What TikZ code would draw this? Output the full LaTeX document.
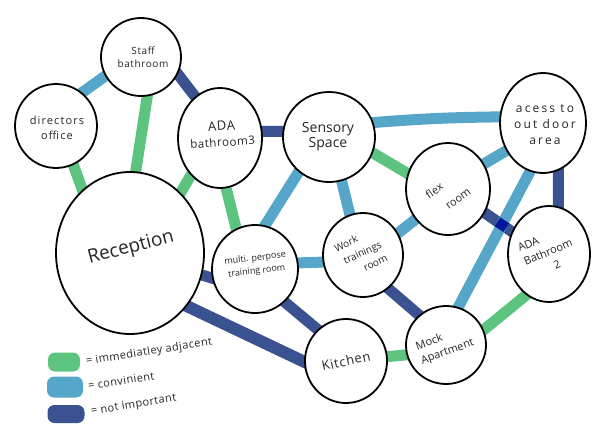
\documentclass[tikz,border=0pt]{standalone}
\usepackage{fontspec}
\setmainfont{Open Sans}
\usetikzlibrary{shapes.geometric,backgrounds,intersections}
\definecolor{gr}{HTML}{5CC47F}
\definecolor{lb}{HTML}{56A6C9}
\definecolor{db}{HTML}{3A5390}
\definecolor{nv}{HTML}{00149C}
\newcommand{\fs}[1]{\fontsize{#1}{#1}\selectfont}
\newcommand{\lsp}[1]{\addfontfeatures{LetterSpace=#1}}
\begin{document}
\begin{tikzpicture}[x=1pt,y=-1pt,
  room/.style={ellipse,draw=black,line width=1.8pt,fill=white,inner sep=0pt},
  lbl/.style={align=center,inner sep=0pt,text=black!85},
  edge/.style={line width=11pt,shorten <=-8pt,shorten >=-8pt},
  ia/.style={edge,draw=gr}, cv/.style={edge,draw=lb}, ni/.style={edge,draw=db},
  swatch/.style={rounded corners=7pt,inner sep=0pt},
  key/.style={anchor=west,inner sep=0pt,rotate=9,font=\fs{11}\lsp{4},text=black!85}]
\useasboundingbox (0,0) rectangle (599,442);
% rooms
\node[room,minimum width=80pt,minimum height=78pt] (staff) at (141,57) {};
\node[room,minimum width=82pt,minimum height=84pt] (dir) at (56,126) {};
\node[room,minimum width=84pt,minimum height=100pt] (ada3) at (220,138) {};
\node[room,minimum width=92pt,minimum height=90pt] (sens) at (329,137) {};
\node[room,minimum width=86pt,minimum height=100pt] (acc) at (543,123) {};
\node[room,minimum width=84pt,minimum height=92pt] (flex) at (448,189) {};
\node[room,minimum width=82pt,minimum height=96pt] (ada2) at (549,254) {};
\node[room,minimum width=80pt,minimum height=84pt] (work) at (363,255) {};
\node[room,minimum width=80pt,minimum height=78pt] (mock) at (446,345) {};
\node[room,minimum width=82pt,minimum height=84pt] (kit) at (346,361) {};
\node[room,minimum width=86pt,minimum height=88pt] (multi) at (255,269) {};
\node[room,minimum width=148pt,minimum height=162pt] (rec) at (130,253) {};
% labels
\node[lbl,font=\fs{10}\lsp{6}] (staff-t) at (143,57) {Staff\\[3pt]bathroom};
\node[lbl,font=\fs{11}\lsp{10}] (dir-t) at (57,128) {directors\\[4pt]office};
\node[lbl,rotate=4] (ada3-t) at (222,134) {{\fs{13}\lsp{5}ADA\hspace{8pt}}\\[4pt]{\fs{11.5}\lsp{5}bathroom3}};
\node[lbl,font=\fs{14}] (sens-t) at (328,137) {Sensory\\[1pt]Space};
\node[lbl,font=\fs{12}\lsp{18}] (acc-t) at (545,125) {acess to\\[4pt]out door\\[4pt]area};
\node[lbl,rotate=35,align=left,font=\fs{11}] (flex-t) at (448,193) {flex\\[9pt]\hspace{10pt}room};
\node[lbl,rotate=23,align=left,font=\fs{11}] (ada2-t) at (548,252) {ADA\\[4pt]Bathroom\\[4pt]\hspace{26pt}2};
\node[lbl,rotate=25,align=left,font=\fs{10}] (work-t) at (361,253) {Work\\[5pt]\hspace{3pt}trainings\\[5pt]\hspace{18pt}room};
\node[lbl,rotate=20,align=left,font=\fs{11}] (mock-t) at (445,345) {Mock\\[4pt]Apartment};
\node[lbl,rotate=12,font=\fs{13}\lsp{5}] (kit-t) at (346,361) {Kitchen};
\node[lbl,rotate=7,font=\fs{9}] (multi-t) at (256,265) {multi. perpose\\[4pt]training room};
\node[lbl,rotate=15,font=\fs{19}] (rec-t) at (131,248) {Reception};
% legend
\node[swatch,fill=gr,minimum width=32pt,minimum height=19pt] (kgr) at (64,362) {};
\node[swatch,fill=lb,minimum width=36pt,minimum height=21pt] (klb) at (65,387) {};
\node[swatch,fill=db,minimum width=37pt,minimum height=18pt] (kdb) at (66,414) {};
\node[key] (tgr) at (86,362) {= immediatley adjacent};
\node[key] (tlb) at (88,386) {= convinient};
\node[key] (tdb) at (91,412) {= not important};
% connectors
\begin{scope}[on background layer]
\draw[cv] (staff.208) -- (dir.52);
\draw[ni] (staff.335) -- (ada3.121);
\draw[ia] (staff.279) -- (rec.86);
\draw[ia] (dir.294) -- (rec.127);
\draw[ia] (ada3.232) -- (rec.50);
\draw[ni] (ada3.9) -- (sens.173);
\draw[ia] (ada3.277) -- (multi.115);
\draw[cv] (sens.229) -- (multi.77);
\draw[cv] (sens.18) to[bend left=2] (acc.172);
\draw[ia] (sens.340) -- (flex.159);
\draw[cv] (sens.286) -- (work.108);
\draw[cv] (flex.35) -- (acc.217);
\draw[cv] (flex.223) -- (work.32);
\draw[ni,name path=fa] (flex.327) -- (ada2.149);
\draw[ni] (acc.288) -- (ada2.79);
\draw[cv,name path=am] (acc.255) -- (mock.72);
\draw[ia] (ada2.241) -- (mock.22);
\draw[ni] (work.307) -- (mock.132);
\draw[cv] (work.190) -- (multi.8);
\draw[ni] (multi.312) -- (kit.132);
\draw[ni] (rec.343) -- (multi.192);
\draw[ni,line width=12pt] (rec.317) -- (kit.181);
\draw[ia] (kit.6) -- (mock.194);
\path[name intersections={of=fa and am,by=cross}];
\node[fill=nv,inner sep=0pt,minimum size=10.5pt,rotate=-34] (crossmark) at (cross) {};
\end{scope}
\end{tikzpicture}
\end{document}
